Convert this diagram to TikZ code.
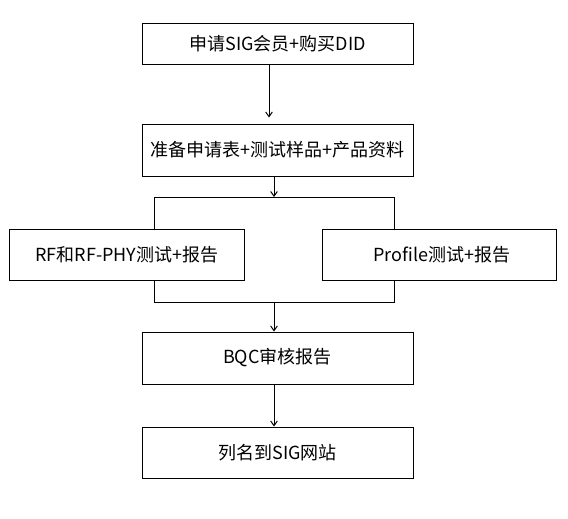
\documentclass[tikz,border=0pt]{standalone}
\usepackage{fontspec}
\newfontfamily\cjk{Noto Sans CJK SC}
\usepackage{tikz}
\usetikzlibrary{arrows.meta,calc}

\tikzset{
  stepbox/.style={draw, line width=0.75, inner sep=0pt, align=center,
    font=\cjk\fontsize{13.5}{16}\selectfont},
  flow/.style={line width=0.75, -{Straight Barb[length=3.5pt,width=5pt]}},
  link/.style={line width=0.75}
}

\begin{document}
\begin{tikzpicture}[x=0.75pt,y=0.75pt,yscale=-1,xscale=1]
\useasboundingbox (0,0) rectangle (568,518);

%Shape: Rectangle [id:apply]
\node [stepbox, minimum width=203.25pt, minimum height=30.75pt] (apply) at (277.5,43.5) {申请SIG会员+购买DID};
%Shape: Rectangle [id:prepare]
\node [stepbox, minimum width=203.25pt, minimum height=39pt] (prepare) at (277.5,150) {准备申请表+测试样品+产品资料};
%Shape: Rectangle [id:rftest]
\node [stepbox, minimum width=176.25pt, minimum height=38.25pt] (rftest) at (127,254.5) {RF和RF-PHY测试+报告};
%Shape: Rectangle [id:proftest]
\node [stepbox, minimum width=175.5pt, minimum height=38.25pt] (proftest) at (439,254.5) {\hspace{4pt}Profile测试+报告};
%Shape: Rectangle [id:bqc]
\node [stepbox, minimum width=203.25pt, minimum height=39pt] (bqc) at (277.5,358) {BQC审核报告};
%Shape: Rectangle [id:listing]
\node [stepbox, minimum width=203.25pt, minimum height=38.25pt] (listing) at (277.5,452.5) {列名到SIG网站};

% junctions
\coordinate (down) at (269,64);
\coordinate (split) at (274,197);
\coordinate (splitL) at (154,197);
\coordinate (splitR) at (394,197);
\coordinate (join) at (274,302);
\coordinate (joinL) at (154,302);
\coordinate (joinR) at (394,302);

%Straight Lines
\draw [flow, shorten >=4.5pt] (apply.south -| down) -- (prepare.north -| down);
\draw [flow] (prepare.south -| split) -- (split);
\draw [link] (rftest.north -| splitL) -- (splitL) -- (splitR) -- (proftest.north -| splitR);
\draw [link] (rftest.south -| joinL) -- (joinL) -- (joinR) -- (proftest.south -| joinR);
\draw [flow] (join) -- (bqc.north -| join);
\draw [flow] (bqc.south -| join) -- (listing.north -| join);

\end{tikzpicture}
\end{document}
